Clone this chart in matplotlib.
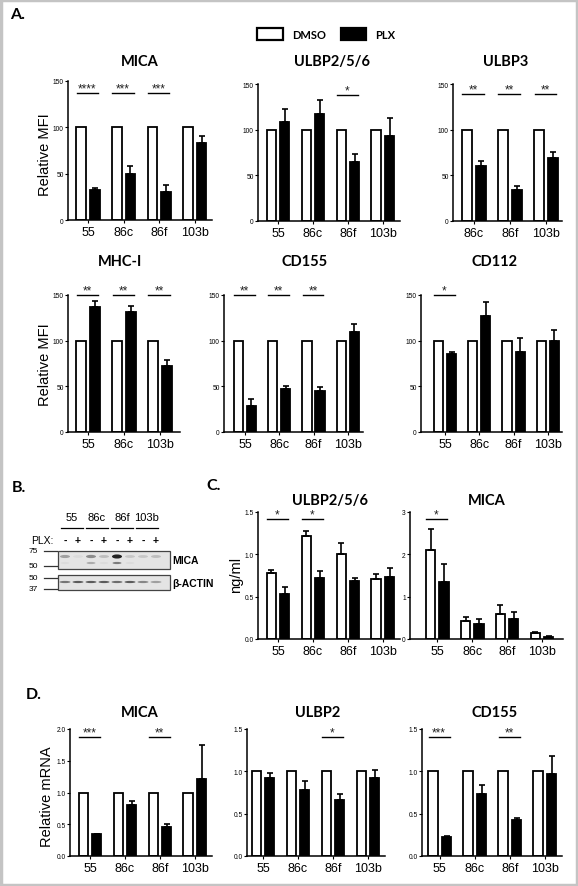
import numpy as np
import matplotlib
matplotlib.use('Agg')
import matplotlib.pyplot as plt
from matplotlib import font_manager as fm
from matplotlib.patches import Rectangle, Ellipse

W, H = 578, 887


def pick(*names):
    for n in names:
        try:
            fm.findfont(fm.FontProperties(family=n), fallback_to_default=False)
            return n
        except Exception:
            pass
    return 'DejaVu Sans'


NARROW = pick('Liberation Sans Narrow', 'Liberation Sans')
ARIAL = pick('Liberation Sans', 'DejaVu Sans')
BOLDF = pick('Lato', 'Open Sans')

# ---------------- data ----------------
lines4 = ['55', '86c', '86f', '103b']
lines_ulbp3 = ['86c', '86f', '103b']
lines_mhc = ['55', '86c', '103b']

# A. relative MFI, PLX (DMSO = 100)
mica_mfi = [32, 50, 30, 83]
mica_mfi_err = [3, 8, 8, 8]
mica_mfi_sig = ['****', '***', '***', '']

ulbp256_mfi = [108, 117, 65, 93]
ulbp256_mfi_err = [15, 16, 8, 20]
ulbp256_mfi_sig = ['', '', '*', '']

ulbp3_mfi = [60, 34, 69]
ulbp3_mfi_err = [6, 4, 7]
ulbp3_mfi_sig = ['**', '**', '**']

mhc_mfi = [137, 131, 72]
mhc_mfi_err = [6, 7, 7]
mhc_mfi_sig = ['**', '**', '**']

cd155_mfi = [29, 47, 45, 110]
cd155_mfi_err = [7, 3, 4, 8]
cd155_mfi_sig = ['**', '**', '**', '']

cd112_mfi = [85, 127, 88, 100]
cd112_mfi_err = [3, 15, 15, 12]
cd112_mfi_sig = ['*', '', '', '']

# C. ELISA ng/ml
ulbp_elisa_dmso = [0.78, 1.22, 1.00, 0.71]
ulbp_elisa_dmso_err = [0.04, 0.06, 0.13, 0.06]
ulbp_elisa_plx = [0.53, 0.72, 0.69, 0.73]
ulbp_elisa_plx_err = [0.09, 0.08, 0.03, 0.11]
ulbp_elisa_sig = ['*', '*', '', '']

mica_elisa_dmso = [2.10, 0.42, 0.60, 0.14]
mica_elisa_dmso_err = [0.50, 0.09, 0.21, 0.02]
mica_elisa_plx = [1.35, 0.35, 0.47, 0.05]
mica_elisa_plx_err = [0.42, 0.13, 0.16, 0.01]
mica_elisa_sig = ['*', '', '', '']

# D. relative mRNA, PLX (DMSO = 1)
mica_mrna = [0.34, 0.81, 0.45, 1.22]
mica_mrna_err = [0.01, 0.06, 0.05, 0.53]
mica_mrna_sig = ['***', '', '**', '']

ulbp2_mrna = [0.92, 0.78, 0.66, 0.92]
ulbp2_mrna_err = [0.06, 0.10, 0.07, 0.10]
ulbp2_mrna_sig = ['', '', '*', '']

cd155_mrna = [0.23, 0.73, 0.42, 0.97]
cd155_mrna_err = [0.01, 0.11, 0.03, 0.21]
cd155_mrna_sig = ['***', '', '**', '']

# B. western blot band strength per lane (55-,55+,86c-,86c+,86f-,86f+,103b-,103b+)
blot_plx = ['-', '+', '-', '+', '-', '+', '-', '+']
mica_band_hi = [0.35, 0.05, 0.45, 0.2, 1.0, 0.15, 0.15, 0.2]
mica_band_lo = [0.05, 0.0, 0.35, 0.05, 0.65, 0.05, 0.0, 0.0]
actin_band = [0.65, 0.8, 0.8, 0.8, 0.7, 0.8, 0.55, 0.4]

# ---------------- figure ----------------
fig = plt.figure(figsize=(W / 100, H / 100), dpi=100)
bg = fig.add_axes([0, 0, 1, 1])
bg.set_xlim(0, W)
bg.set_ylim(H, 0)
bg.axis('off')

OFF, BW = 0.19, 0.27


def panel(box, cats, plx, plx_err, sig, ymax, yticks, sig_y, lo, hi,
          dmso=None, dmso_err=None, fmt='{:g}'):
    xl, xr, yt, yb = box
    ax = fig.add_axes([xl / W, 1 - yb / H, (xr - xl) / W, (yb - yt) / H])
    n = len(cats)
    x = np.arange(n)
    if dmso is None:
        dmso = [100] * n
    ax.bar(x - OFF, dmso, BW, color='white', edgecolor='black', lw=1.3, zorder=2)
    ax.bar(x + OFF, plx, BW, color='black', edgecolor='black', lw=1.3, zorder=2)
    if dmso_err is not None:
        ax.errorbar(x - OFF, dmso, yerr=[np.zeros(n), dmso_err], fmt='none',
                    ecolor='black', elinewidth=1.2, capsize=2.5, capthick=1.2, zorder=3)
    ax.errorbar(x + OFF, plx, yerr=[np.zeros(n), plx_err], fmt='none',
                ecolor='black', elinewidth=1.2, capsize=2.5, capthick=1.2, zorder=3)
    for i, s in enumerate(sig):
        if s:
            ax.plot([i - 0.32, i + 0.28], [sig_y, sig_y], color='black', lw=1.0,
                    clip_on=False)
            ax.annotate(s, (i - 0.02, sig_y), xytext=(0, -1), textcoords='offset points',
                        ha='center', va='bottom', fontsize=8.5, family=ARIAL,
                        color='#222222', annotation_clip=False)
    ax.set_xlim(-lo, n - 1 + hi)
    ax.set_ylim(0, ymax)
    ax.set_yticks(yticks)
    ax.set_yticklabels([fmt.format(v) for v in yticks], family=NARROW, fontsize=4.8)
    ax.set_xticks(x)
    ax.set_xticklabels(cats, family=NARROW, fontsize=9)
    for s in ('top', 'right'):
        ax.spines[s].set_visible(False)
    for s in ('left', 'bottom'):
        ax.spines[s].set_linewidth(1.1)
    ax.tick_params(axis='y', length=2, width=0.8, pad=1)
    ax.tick_params(axis='x', length=2.5, width=0.8, pad=2)
    ax.patch.set_alpha(0)
    return ax


mfi_t = [0, 50, 100, 150]
# row A1
panel((68, 212, 82, 221), lines4, mica_mfi, mica_mfi_err, mica_mfi_sig,
      150, mfi_t, 137, 0.56, 0.48)
panel((258, 400, 85, 222), lines4, ulbp256_mfi, ulbp256_mfi_err, ulbp256_mfi_sig,
      150, mfi_t, 138, 0.57, 0.49)
panel((453, 562, 85, 222), lines_ulbp3, ulbp3_mfi, ulbp3_mfi_err, ulbp3_mfi_sig,
      150, mfi_t, 139, 0.58, 0.44)
# row A2
panel((68, 180, 296, 433), lines_mhc, mhc_mfi, mhc_mfi_err, mhc_mfi_sig,
      150, mfi_t, 150, 0.56, 0.56)
panel((224, 363, 296, 433), lines4, cd155_mfi, cd155_mfi_err, cd155_mfi_sig,
      150, mfi_t, 150, 0.61, 0.44)
panel((421, 562, 296, 433), lines4, cd112_mfi, cd112_mfi_err, cd112_mfi_sig,
      150, mfi_t, 150, 0.70, 0.41)
# C
panel((258, 400, 513, 640), lines4, ulbp_elisa_plx, ulbp_elisa_plx_err, ulbp_elisa_sig,
      1.5, [0, 0.5, 1.0, 1.5], 1.42, 0.57, 0.49,
      dmso=ulbp_elisa_dmso, dmso_err=ulbp_elisa_dmso_err, fmt='{:.1f}')
panel((410, 563, 513, 640), lines4, mica_elisa_plx, mica_elisa_plx_err, mica_elisa_sig,
      3, [0, 1, 2, 3], 2.84, 0.78, 0.60,
      dmso=mica_elisa_dmso, dmso_err=mica_elisa_dmso_err)
# D
panel((70, 212, 730, 857), lines4, mica_mrna, mica_mrna_err, mica_mrna_sig,
      2.0, [0, 0.5, 1.0, 1.5, 2.0], 1.87, 0.57, 0.49,
      dmso=[1.0] * 4, fmt='{:.1f}')
panel((247, 385, 730, 857), lines4, ulbp2_mrna, ulbp2_mrna_err, ulbp2_mrna_sig,
      1.5, [0, 0.5, 1.0, 1.5], 1.41, 0.46, 0.49,
      dmso=[1.0] * 4, fmt='{:.1f}')
panel((422, 562, 730, 857), lines4, cd155_mrna, cd155_mrna_err, cd155_mrna_sig,
      1.5, [0, 0.5, 1.0, 1.5], 1.41, 0.51, 0.49,
      dmso=[1.0] * 4, fmt='{:.1f}')

# titles
titles = [('MICA', 140, 62), ('ULBP2/5/6', 332, 62), ('ULBP3', 506, 62),
          ('MHC-I', 120, 262), ('CD155', 305, 262), ('CD112', 495, 262),
          ('ULBP2/5/6', 330, 501), ('MICA', 487, 501),
          ('MICA', 140, 713), ('ULBP2', 318, 713), ('CD155', 495, 713)]
for t, x, y in titles:
    bg.text(x, y, t, ha='center', va='center', fontsize=10.5, weight='bold', family=BOLDF)

for t, x, y in [('A.', 10, 15), ('B.', 12, 488), ('C.', 206, 486), ('D.', 26, 695)]:
    bg.text(x, y, t, ha='left', va='center', fontsize=11.5, weight='bold', family=BOLDF)

for t, x, y in [('Relative MFI', 45, 155), ('Relative MFI', 45, 365),
                ('ng/ml', 236, 575), ('Relative mRNA', 47, 797)]:
    bg.text(x, y, t, ha='center', va='center', rotation=90, fontsize=10.5, family=ARIAL)

# legend
bg.add_patch(Rectangle((257, 29), 26, 12, facecolor='white', edgecolor='black', lw=1.6))
bg.text(292, 35.5, 'DMSO', ha='left', va='center', fontsize=8, weight='bold', family=BOLDF)
bg.add_patch(Rectangle((341, 29), 25, 12, facecolor='black', edgecolor='black', lw=1.6))
bg.text(375, 35.5, 'PLX', ha='left', va='center', fontsize=8, weight='bold', family=BOLDF)

# B. western blot
groups = [('55', 61, 83), ('86c', 86, 108), ('86f', 111, 133), ('103b', 136, 158)]
for lab, a, b in groups:
    bg.text((a + b) / 2, 518, lab, ha='center', va='center', fontsize=8, family=NARROW)
    bg.plot([a, b], [529, 529], color='black', lw=0.9)
bg.text(53, 541, 'PLX:', ha='right', va='center', fontsize=7.5, family=ARIAL)
lane_x = np.linspace(65, 156, 8)
for xx, s in zip(lane_x, blot_plx):
    bg.text(xx, 541, s, ha='center', va='center', fontsize=7.5, weight='bold', family=ARIAL)

bg.add_patch(Rectangle((58, 552), 112, 18, facecolor='#e4e4e4', edgecolor='#444444', lw=0.9))
bg.add_patch(Rectangle((58, 576), 112, 15, facecolor='#e4e4e4', edgecolor='#444444', lw=0.9))
for xx, a1, a2, a3 in zip(lane_x, mica_band_hi, mica_band_lo, actin_band):
    if a1 > 0:
        bg.add_patch(Ellipse((xx, 557.5), 10, 2.6 + 1.5 * a1, color='black', alpha=a1 * 0.85, lw=0))
    if a2 > 0:
        bg.add_patch(Ellipse((xx, 564), 9, 2.2, color='black', alpha=a2 * 0.7, lw=0))
    bg.add_patch(Ellipse((xx, 583), 11, 2.2, color='black', alpha=a3 * 0.75, lw=0))
bg.text(172, 561, 'MICA', ha='left', va='center', fontsize=7.5, weight='bold', family=ARIAL)
bg.text(172, 584, 'β-ACTIN', ha='left', va='center', fontsize=7.5, weight='bold', family=ARIAL)
for lab, y in [('75', 552), ('50', 567), ('50', 579), ('37', 590)]:
    bg.text(38, y, lab, ha='right', va='center', fontsize=6, family=NARROW)
    bg.plot([44, 57], [y, y], color='#333333', lw=0.9)

# grey frame
bg.add_patch(Rectangle((1, 1), W - 2, H - 2, facecolor='none', edgecolor='#c4c4c4', lw=2.5))

fig.savefig('out.png', dpi=100)
